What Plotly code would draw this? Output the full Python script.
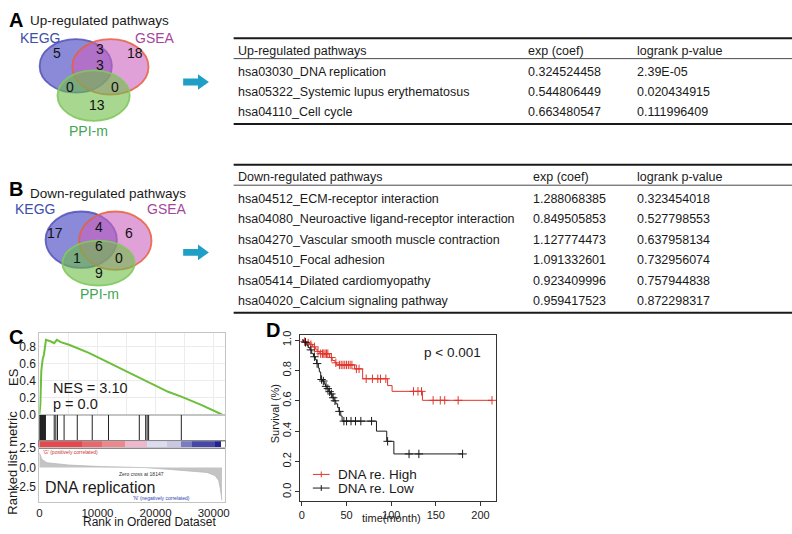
import plotly.graph_objects as go

W, H = 792, 534
FONT = "Liberation Sans, Arial, Helvetica, sans-serif"

# ---------------- data ----------------
venn_sets = ["KEGG", "GSEA", "PPI-m"]
venn_regions = ["KEGG", "KEGG&GSEA", "GSEA", "ALL", "KEGG&PPI", "GSEA&PPI", "PPI"]
up_counts = [5, 3, 18, 3, 0, 0, 13]
down_counts = [17, 4, 6, 6, 1, 0, 9]

table_cols = ["exp (coef)", "logrank p-value"]
up_header = "Up-regulated pathways"
up_pathways = ["hsa03030_DNA replication",
               "hsa05322_Systemic lupus erythematosus",
               "hsa04110_Cell cycle"]
up_expcoef = ["0.324524458", "0.544806449", "0.663480547"]
up_pvalue = ["2.39E-05", "0.020434915", "0.111996409"]

down_header = "Down-regulated pathways"
down_pathways = ["hsa04512_ECM-receptor interaction",
                 "hsa04080_Neuroactive ligand-receptor interaction",
                 "hsa04270_Vascular smooth muscle contraction",
                 "hsa04510_Focal adhesion",
                 "hsa05414_Dilated cardiomyopathy",
                 "hsa04020_Calcium signaling pathway"]
down_expcoef = ["1.288068385", "0.849505853", "1.127774473",
                "1.091332601", "0.923409996", "0.959417523"]
down_pvalue = ["0.323454018", "0.527798553", "0.637958134",
               "0.732956074", "0.757944838", "0.872298317"]

# GSEA enrichment plot (DNA replication)
es_rank = [0, 170, 340, 570, 800, 970, 1140, 1990, 2560, 3010, 3690, 5110,
           6530, 8520, 10800, 13640, 16480, 19320, 22160, 24430, 27840, 31420]
es_value = [0.0, 0.114, 0.514, 0.648, 0.705, 0.80, 0.876, 0.857, 0.838, 0.876,
            0.85, 0.819, 0.781, 0.724, 0.648, 0.552, 0.457, 0.362, 0.267,
            0.21, 0.114, 0.0]
hit_ranks = [60, 130, 200, 270, 340, 410, 480, 550, 620, 690, 760, 830, 900,
             970, 1050, 2560, 2840, 3125, 4260, 6530, 9100, 11900, 17200,
             18300, 18550, 18800, 24430]
colorbar_edges = [0, 7300, 10700, 14700, 18600, 22000, 24300, 26300, 30300, 31250]
colorbar_colors = ["#e5484d", "#e8676d", "#ec878b", "#f2b6cc", "#dcdcf0",
                   "#c7c7e6", "#7b7bc3", "#4747a9", "#23238f"]
metric_rank = [0, 150, 455, 1300, 3000, 5000, 10700, 17500, 18147, 22000,
               25450, 28860, 30280, 30850, 31140, 31420]
metric_value = [1.9, 1.5, 1.04, 0.63, 0.45, 0.33, 0.125, 0.02, 0.0, -0.21,
                -0.42, -0.625, -1.04, -1.67, -2.7, -4.2]
es_ticks = [0.0, 0.2, 0.4, 0.6, 0.8]
metric_ticks = [2.5, 0.0, -2.5]
rank_ticks = [0, 10000, 20000, 30000]

# Kaplan-Meier (DNA replication high / low)
high_time = [0, 2, 5.5, 8.5, 12, 15, 17, 20, 31, 34, 37, 39, 59, 68, 96, 101, 135]
high_surv = [1.0, 0.99, 0.98, 0.97, 0.955, 0.94, 0.925, 0.91, 0.885, 0.865,
             0.85, 0.836, 0.81, 0.745, 0.70, 0.662, 0.603]
high_end = 213
high_censor = [3, 7, 10, 14, 18, 21, 23, 24.5, 26, 27.5, 29, 33, 38, 42, 44,
               46, 48, 50, 52, 54, 56, 61, 64, 72, 79, 85, 88, 94, 125, 130,
               134, 147, 155, 160, 175, 213]
low_time = [0, 2, 5.5, 7, 9, 11, 13, 15, 16.5, 18.4, 19.5, 21, 23, 25, 26.5,
            28, 30, 32, 34, 36, 38, 40, 41.5, 43.5, 45, 83.5, 95, 103]
low_surv = [1.0, 0.985, 0.965, 0.95, 0.935, 0.91, 0.89, 0.87, 0.845, 0.815,
            0.79, 0.74, 0.73, 0.71, 0.695, 0.68, 0.66, 0.645, 0.62, 0.60, 0.58,
            0.555, 0.53, 0.50, 0.466, 0.40, 0.333, 0.25]
low_end = 180
low_censor = [4, 10, 14, 17, 22, 24, 27, 29, 31, 33, 35, 37, 42, 47, 50, 55,
              60, 66, 78, 96, 120, 131, 180]
surv_ticks = [0.0, 0.2, 0.4, 0.6, 0.8, 1.0]
time_ticks = [0, 50, 100, 150, 200]
km_groups = ["DNA re. High", "DNA re. Low"]


# ---------------- helpers ----------------
def X(px):
    return px / W


def Y(py):
    return 1 - py / H


annotations = []
shapes = []


def text(t, x, y, size, color="#1a1a1a", xanchor="center", bold=False, angle=0):
    if bold:
        t = "<b>" + t + "</b>"
    annotations.append(dict(text=t, x=X(x), y=Y(y), xref="paper", yref="paper",
                            xanchor=xanchor, yanchor="middle", showarrow=False,
                            textangle=angle,
                            font=dict(family=FONT, size=size, color=color)))


def hline(x0, x1, y, width, color="#1a1a1a"):
    shapes.append(dict(type="line", xref="paper", yref="paper", x0=X(x0), x1=X(x1),
                       y0=Y(y), y1=Y(y), line=dict(color=color, width=width)))


def step_value(times, survs, t):
    v = survs[0]
    for ti, si in zip(times, survs):
        if ti <= t:
            v = si
    return v


# ---------------- Venn diagrams ----------------
set_fill = ["rgba(60,60,190,0.6)", "rgba(203,97,190,0.6)", "rgba(110,190,70,0.6)"]
set_line = ["rgba(80,80,185,0.85)", "rgba(232,95,60,0.85)", "rgba(130,200,95,0.9)"]
set_label_color = ["#3d4fa8", "#a4479c", "#3ea653"]


def venn(counts, ellipses, label_pos, count_pos):
    for (x0, y0, x1, y1), fc, lc in zip(ellipses, set_fill, set_line):
        shapes.append(dict(type="circle", xref="paper", yref="paper",
                           x0=X(x0), x1=X(x1), y0=Y(y1), y1=Y(y0),
                           fillcolor=fc, line=dict(color=lc, width=1.8),
                           layer="above"))
    for name, (lx, ly), col in zip(venn_sets, label_pos, set_label_color):
        text(name, lx, ly, 14, col)
    for c, (cx, cy) in zip(counts, count_pos):
        text(str(c), cx, cy, 14, "#111111")


venn(up_counts,
     [(37, 33, 110, 88), (70, 33, 147, 90), (55, 65, 128, 117)],
     [(37, 32), (154, 32), (86, 127)],
     [(55, 47), (98, 43), (133, 47), (98, 60), (68, 82), (113, 82), (95, 101)])
venn(down_counts,
     [(43, 210, 115, 268), (77, 210, 150, 270), (60, 240, 133, 286)],
     [(32, 207), (166, 207), (97, 295)],
     [(53, 232), (97, 226), (127, 232), (97, 245), (75, 258), (117, 258), (97, 273)])

text("A", 4, 13, 20, bold=True, xanchor="left", color="#000000")
text("Up-regulated pathways", 25, 14, 13.5, xanchor="left")
text("B", 4, 187, 20, bold=True, xanchor="left", color="#000000")
text("Down-regulated pathways", 25, 192, 13.5, xanchor="left")
text("C", 4, 339, 20, bold=True, xanchor="left", color="#000000")
text("D", 264, 332, 20, bold=True, xanchor="left", color="#000000")


# ---------------- arrows ----------------
def arrow(x0, yc):
    xs, xh, xe = X(x0), X(x0 + 15), X(x0 + 26)
    a, b = 3.5 / H, 8 / H
    yy = Y(yc)
    path = (f"M {xs},{yy + a} L {xh},{yy + a} L {xh},{yy + b} L {xe},{yy} "
            f"L {xh},{yy - b} L {xh},{yy - a} L {xs},{yy - a} Z")
    shapes.append(dict(type="path", xref="paper", yref="paper", path=path,
                       fillcolor="#1f9fc6", line=dict(width=0)))


arrow(182, 77)
arrow(182, 252)


# ---------------- tables ----------------
def table(header, names, col2, col3, top, row_gap, c2x, c3x):
    hline(233, 800, top, 2)
    text(header, 235, top + 13, 12.5, xanchor="left")
    text(table_cols[0], c2x, top + 13, 12.5, xanchor="left")
    text(table_cols[1], c3x, top + 13, 12.5, xanchor="left")
    hline(233, 800, top + 21, 0.8)
    y = top + 35
    for n, a, b in zip(names, col2, col3):
        text(n, 235, y, 12.5, xanchor="left")
        text(a, c2x, y, 12.5, xanchor="left")
        text(b, c3x, y, 12.5, xanchor="left")
        y += row_gap
    hline(233, 800, y - row_gap + 12, 2)


table(up_header, up_pathways, up_expcoef, up_pvalue, 32, 20.6, 528, 638)
table(down_header, down_pathways, down_expcoef, down_pvalue, 162, 21, 533, 638)

# ---------------- GSEA plot ----------------
fig = go.Figure()
fig.add_trace(go.Scatter(x=es_rank, y=es_value, mode="lines",
                         line=dict(color="#6cbf3a", width=2),
                         xaxis="x", yaxis="y", showlegend=False))
hx, hy = [], []
for r in hit_ranks:
    hx += [r, r, None]
    hy += [0, 1, None]
fig.add_trace(go.Scatter(x=hx, y=hy, mode="lines", line=dict(color="#222222", width=1),
                         xaxis="x2", yaxis="y2", showlegend=False))
mids = [(a + b) / 2 for a, b in zip(colorbar_edges[:-1], colorbar_edges[1:])]
wids = [b - a for a, b in zip(colorbar_edges[:-1], colorbar_edges[1:])]
fig.add_trace(go.Bar(x=mids, y=[1] * len(mids), width=wids,
                     marker=dict(color=colorbar_colors, line=dict(width=0)),
                     xaxis="x3", yaxis="y3", showlegend=False))
fig.add_trace(go.Scatter(x=metric_rank, y=metric_value, mode="lines", fill="tozeroy",
                         line=dict(color="#b9b9b9", width=0.8), fillcolor="#c4c4c4",
                         xaxis="x4", yaxis="y4", showlegend=False))

text("NES = 3.10", 48, 391, 14.5, xanchor="left")
text("p = 0.0", 48, 408, 14.5, xanchor="left")
text("DNA replication", 40, 493, 16, xanchor="left")
text("'G' (positively correlated)", 38, 456.5, 5, "#d03030", xanchor="left")
text("Zero cross at 18147", 140, 480, 5, "#333333")
text("'N' (negatively correlated)", 160, 504, 5, "#3040b0")
text("ES", 10, 380, 13, angle=-90)
text("Ranked list metric", 10, 468, 13, angle=-90)
text("Rank in Ordered Dataset", 148, 528.5, 12)

# ---------------- Kaplan-Meier ----------------
km_colors = ["#e0352c", "#1a1a1a"]
for times, survs, end, cens, col in [(high_time, high_surv, high_end, high_censor, km_colors[0]),
                                     (low_time, low_surv, low_end, low_censor, km_colors[1])]:
    fig.add_trace(go.Scatter(x=times + [end], y=survs + [survs[-1]], mode="lines",
                             line=dict(color=col, width=1, shape="hv"),
                             xaxis="x5", yaxis="y5", showlegend=False))
    fig.add_trace(go.Scatter(x=cens, y=[step_value(times, survs, c) for c in cens],
                             mode="markers",
                             marker=dict(symbol="cross-thin", size=6,
                                         line=dict(color=col, width=1)),
                             xaxis="x5", yaxis="y5", showlegend=False))

text("p &lt; 0.001", 423, 355, 13.5, xanchor="left")
for i, (g, col) in enumerate(zip(km_groups, km_colors)):
    yy = 480 + 14 * i
    hline(313, 330, yy, 1, col)
    shapes.append(dict(type="line", xref="paper", yref="paper", x0=X(321.5), x1=X(321.5),
                       y0=Y(yy - 3), y1=Y(yy + 3), line=dict(color=col, width=1)))
    text(g, 336, yy, 13.5, xanchor="left")
text("Survival (%)", 275, 418, 11, angle=-90)
text("time(month)", 392, 525, 11)

# ---------------- axes ----------------
cx0, cx1 = X(36.7), X(224)
crange = [0, 31900]
gl = "#c4c4c4"
tick_font = dict(family=FONT, size=12, color="#1a1a1a")
common_c = dict(domain=[cx0, cx1], range=crange, showline=True, mirror=True,
                linecolor=gl, linewidth=1, zeroline=False)
layout_axes = dict(
    xaxis=dict(**common_c, anchor="y", showticklabels=False, showgrid=True,
               dtick=5000, tick0=0, gridcolor="#ececec", ticks=""),
    yaxis=dict(domain=[Y(418.5), Y(335)], range=[0, (418.5 - 335) / 87.5], anchor="x",
               tickvals=es_ticks, ticktext=[f"{v:.1f}" for v in es_ticks],
               tickfont=tick_font, showgrid=True, gridcolor="#ececec",
               showline=True, mirror=True, linecolor=gl, zeroline=False, ticks=""),
    xaxis2=dict(**common_c, anchor="y2", showticklabels=False, showgrid=False, ticks=""),
    yaxis2=dict(domain=[Y(446), Y(418.5)], range=[0, 1], anchor="x2", showticklabels=False,
                showgrid=False, showline=True, mirror=True, linecolor=gl, zeroline=False),
    xaxis3=dict(domain=[cx0, cx1], range=crange, anchor="y3", showticklabels=False,
                showgrid=False, showline=True, mirror=True, linecolor="#888888",
                zeroline=False),
    yaxis3=dict(domain=[Y(453), Y(446)], range=[0, 1], anchor="x3", showticklabels=False,
                showgrid=False, showline=True, mirror=True, linecolor="#888888",
                zeroline=False),
    xaxis4=dict(**common_c, anchor="y4", tickvals=rank_ticks,
                ticktext=[str(v) for v in rank_ticks],
                tickfont=dict(family=FONT, size=11.5, color="#1a1a1a"),
                showgrid=False, ticks="", ticklabelstandoff=1),
    yaxis4=dict(domain=[Y(508), Y(453)], range=[-4.375, 2.5], anchor="x4",
                tickvals=metric_ticks, ticktext=[f"{v:.1f}" for v in metric_ticks],
                tickfont=tick_font, showgrid=False, showline=True, mirror=True,
                linecolor=gl, zeroline=False, ticks=""),
    xaxis5=dict(domain=[X(300), X(498)], range=[-2.2, 217.4], anchor="y5",
                tickvals=time_ticks, ticks="outside", ticklen=4, tickcolor="#333",
                tickfont=dict(family=FONT, size=11, color="#1a1a1a"),
                showline=True, mirror=True, linecolor="#333333", linewidth=1,
                showgrid=False, zeroline=False),
    yaxis5=dict(domain=[Y(507), Y(337)], range=[-0.058, 1.032], anchor="x5",
                tickvals=surv_ticks, ticktext=[f"{v:.1f}" for v in surv_ticks],
                tickangle=-90, ticks="outside", ticklen=4, tickcolor="#333",
                tickfont=dict(family=FONT, size=11, color="#1a1a1a"),
                showline=True, mirror=True, linecolor="#333333", linewidth=1,
                showgrid=False, zeroline=False),
)

fig.update_layout(width=W, height=H, autosize=False,
                  margin=dict(l=0, r=0, t=0, b=0),
                  paper_bgcolor="white", plot_bgcolor="white",
                  barmode="overlay", bargap=0, hovermode=False,
                  font=dict(family=FONT, color="#1a1a1a"),
                  shapes=shapes, annotations=annotations, showlegend=False,
                  **layout_axes)
fig.write_html("out.html",
               config={"displayModeBar": False, "staticPlot": True},
               post_script="document.body.style.margin='0';"
                           "document.body.style.overflow='hidden';")
